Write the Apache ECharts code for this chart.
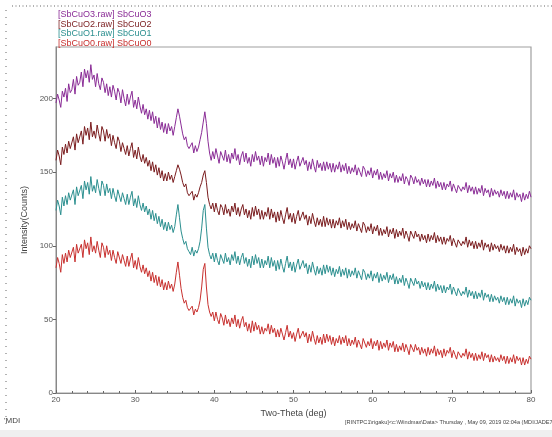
<!DOCTYPE html>
<html><head><meta charset="utf-8">
<script src="https://cdn.jsdelivr.net/npm/echarts@6/dist/echarts.min.js"></script>
<style>html,body{margin:0;padding:0;background:#fff}#c{width:552px;height:437px}</style>
</head><body><div id="c"></div>
<script>
// 2-theta sampling grid (deg)
const thetaStart = 20, thetaStep = 0.2, thetaEnd = 80;
const xTicks = [20, 30, 40, 50, 60, 70, 80];
const yTicks = [0, 50, 100, 150, 200];
const seriesNames = ['SbCuO3', 'SbCuO2', 'SbCuO1', 'SbCuO0'];
const legendLabels = ['[SbCuO3.raw] SbCuO3', '[SbCuO2.raw] SbCuO2', '[SbCuO1.raw] SbCuO1', '[SbCuO0.raw] SbCuO0'];

const sbcuo3 = [
197,203,199,194,205, 201,207,198,210,204, 206,213,203,215,209, 211,218,208,220,214, 219,211,223,213,216,
208,217,210,206,214, 211,204,210,202,208, 201,209,205,199,207, 204,197,206,200,195, 203,196,201,205,194,
199,193,201,195,190, 196,189,193,186,192, 185,191,183,188,180, 187,179,184,177,183, 176,183,178,181,175,
181,187,193,188,182, 176,172,174,168,166, 165,170,163,168,164, 167,172,177,184,191, 183,171,163,158,164,
159,166,161,156,164, 163,158,165,157,162, 156,163,159,166,158, 162,155,161,164,157, 163,156,160,154,162,
157,164,158,161,155, 161,154,160,157,163, 155,162,156,160,153, 160,154,161,157,152, 158,163,155,159,153,
159,152,157,161,154, 153,160,155,158,151, 157,152,159,154,150, 158,153,156,151,157, 151,157,152,156,150,
156,150,155,152,157, 150,155,151,156,149, 154,149,153,150,155, 148,153,150,147,154, 152,147,151,148,153,
146,151,148,152,145, 150,145,149,146,151, 144,149,146,150,143, 148,143,147,144,149, 142,147,145,141,148,
146,142,147,143,145, 141,146,142,145,140, 145,140,144,141,146, 139,144,140,143,138, 143,138,142,140,144,
137,142,139,136,141, 142,137,140,138,143, 136,141,137,140,135, 140,135,139,136,141, 134,139,136,138,133,
139,134,138,135,137, 133,138,134,137,132, 137,132,136,133,138, 131,136,133,135,130, 136,131,135,132,137,
133];
const sbcuo2 = [
158,165,161,155,167, 162,169,163,171,166, 167,174,165,176,170, 171,178,169,181,175, 180,172,184,174,178,
173,182,176,171,181, 178,171,179,173,176, 168,175,170,166,174, 171,164,170,166,162, 168,161,166,170,160,
165,159,167,161,157, 162,156,160,154,158, 151,157,150,155,148, 153,146,151,144,149, 144,150,145,148,143,
147,151,155,152,148, 143,140,142,136,134, 133,137,131,135,133, 136,140,143,148,151, 143,133,128,125,129,
123,129,124,121,128, 126,121,128,122,125, 120,127,123,129,121, 126,120,125,128,121, 125,119,124,118,126,
120,127,121,125,118, 124,118,123,120,126, 118,125,119,123,116, 123,117,124,119,115, 121,126,118,122,116,
122,115,120,124,117, 116,123,118,121,114, 120,115,122,117,113, 119,114,118,113,120, 113,119,114,118,112,
118,112,117,114,119, 112,117,113,118,111, 116,111,115,112,117, 110,115,112,109,116, 114,109,113,110,115,
108,113,110,114,107, 112,107,111,108,113, 106,111,108,112,105, 111,106,110,107,112, 105,110,107,103,110,
109,105,110,106,108, 103,108,104,107,102, 108,103,107,104,109, 102,107,103,106,101, 106,101,105,103,107,
100,105,102,99,104, 105,100,103,101,106, 99,104,100,103,98, 103,98,102,99,104, 97,102,99,101,96,
102,97,101,98,100, 96,101,97,100,95, 100,95,99,96,101, 94,99,96,98,93, 99,94,98,95,100,
98];
const sbcuo1 = [
124,131,127,121,133, 127,134,128,136,131, 130,138,128,140,134, 134,141,132,144,138, 143,135,147,137,141,
136,145,139,134,144, 141,134,142,136,139, 132,139,134,130,138, 137,130,136,132,128, 135,128,133,137,127,
132,126,134,128,124, 129,123,127,121,125, 118,124,117,122,115, 120,113,118,111,116, 110,116,111,114,109,
113,121,128,119,110, 105,101,103,98,96, 94,99,93,97,95, 98,103,112,124,128, 112,99,94,91,95,
89,95,90,87,94, 93,88,95,89,92, 87,94,90,96,88, 93,87,92,95,88, 92,86,91,85,93,
87,94,88,92,85, 91,85,90,87,93, 85,92,86,90,83, 90,84,91,86,82, 88,93,85,89,83,
89,82,87,91,84, 83,90,85,88,81, 87,82,89,84,80, 86,81,85,80,87, 81,87,82,86,80,
85,79,84,81,86, 79,84,80,85,78, 84,79,83,80,85, 78,83,80,77,84, 82,77,81,78,83,
76,81,78,82,75, 81,76,80,77,82, 75,80,77,81,74, 79,74,78,75,80, 73,78,75,71,78,
77,73,78,74,76, 71,76,72,75,70, 75,70,74,71,76, 69,74,70,73,68, 73,68,72,70,74,
67,72,69,66,71, 71,66,69,67,72, 65,70,66,69,64, 69,64,68,65,70, 63,68,65,67,62,
67,62,66,63,65, 61,66,62,65,60, 65,60,64,61,66, 59,64,61,63,58, 64,59,63,60,65,
63];
const sbcuo0 = [
85,92,88,82,94, 88,95,89,97,92, 91,99,89,101,95, 94,101,92,104,98, 102,94,106,96,100,
95,103,97,92,102, 99,92,100,94,97, 90,97,92,88,96, 95,88,94,90,86, 93,86,91,95,85,
90,84,92,86,82, 87,81,85,79,83, 76,82,75,80,73, 79,72,77,70,75, 70,76,71,74,69,
74,82,89,80,71, 65,61,63,58,56, 55,59,53,57,55, 58,63,72,84,88, 72,60,55,52,55,
49,55,50,47,54, 51,46,53,47,50, 45,51,47,53,45, 50,44,49,52,45, 48,42,47,41,49,
42,48,43,46,40, 45,40,44,42,47, 40,46,41,44,38, 43,38,44,40,36, 41,46,38,42,37,
41,35,40,44,37, 36,42,38,41,34, 40,35,42,37,33, 39,34,38,33,40, 34,40,35,39,33,
38,32,37,34,39, 33,38,34,39,32, 37,32,36,33,38, 31,36,33,30,37, 36,31,35,32,37,
30,35,32,36,29, 35,30,34,31,36, 29,34,31,35,28, 33,28,32,29,34, 28,33,30,26,33,
32,28,33,29,31, 26,31,27,30,25, 31,26,30,27,32, 25,30,26,29,24, 30,25,29,27,31,
24,29,26,23,28, 29,24,27,25,30, 23,28,24,27,22, 27,22,26,23,28, 22,27,24,26,21,
26,21,25,22,24, 21,26,22,25,20, 25,20,24,21,26, 20,25,22,24,19, 24,19,23,20,25,
23];

const colors = ['#8a2c96', '#7a1c1e', '#2b8f8f', '#c8302e'];
const values = [sbcuo3, sbcuo2, sbcuo1, sbcuo0];
const theta = [];
for (let i = 0; thetaStart + i * thetaStep <= thetaEnd + 1e-9; i++) theta.push(+(thetaStart + i * thetaStep).toFixed(2));

const chart = echarts.init(document.getElementById('c'), null, {renderer: 'canvas'});
const axisFont = {fontFamily: 'Liberation Sans, Arial, sans-serif', fontSize: 8, color: '#555'};

const graphics = [];
legendLabels.forEach((t, i) => {
  graphics.push({type: 'text', left: 58, top: 10 + i * 9.6, style: {text: t, fill: colors[i], font: '9px Liberation Sans, Arial, sans-serif'}});
});
// dotted rulers
graphics.push({type: 'line', shape: {x1: 12, y1: 6, x2: 552, y2: 6}, style: {stroke: '#999', lineWidth: 1.5, lineDash: [1, 2.5]}});
graphics.push({type: 'line', shape: {x1: 6, y1: 10, x2: 6, y2: 430}, style: {stroke: '#999', lineWidth: 1.5, lineDash: [1, 6]}});
graphics.push({type: 'rect', shape: {x: 0, y: 430, width: 552, height: 7}, style: {fill: '#efefef'}});
graphics.push({type: 'text', left: 4, top: 417, style: {text: "'MDI", fill: '#444', font: '8px Liberation Sans, Arial, sans-serif'}});
graphics.push({type: 'text', left: 345, top: 419, style: {text: '[RINTPC1\\rigaku]<c:\\Windmax\\Data> Thursday , May 09, 2019 02:04a (MDI/JADE7', fill: '#444', font: '5.6px Liberation Sans, Arial, sans-serif'}});

chart.setOption({
  animation: false,
  backgroundColor: '#fff',
  grid: {left: 56, right: 21, top: 47, bottom: 44, show: true, borderColor: '#a0a0a0', borderWidth: 1.2, containLabel: false},
  xAxis: {
    type: 'value', min: xTicks[0], max: xTicks[xTicks.length - 1], interval: 10,
    name: 'Two-Theta (deg)', nameLocation: 'middle', nameGap: 9,
    nameTextStyle: {fontFamily: 'Liberation Sans, Arial, sans-serif', fontSize: 9, color: '#444'},
    axisLine: {lineStyle: {color: '#888'}},
    axisTick: {show: true, inside: true, length: 3, lineStyle: {color: '#666'}},
    minorTick: {show: true, splitNumber: 5, length: 2, lineStyle: {color: '#666'}},
    axisLabel: Object.assign({margin: 3}, axisFont),
    splitLine: {show: false}
  },
  yAxis: {
    type: 'value', min: yTicks[0], max: 235, interval: 50,
    name: 'Intensity(Counts)', nameLocation: 'middle', nameGap: 12,
    nameTextStyle: {fontFamily: 'Liberation Sans, Arial, sans-serif', fontSize: 9, color: '#444'},
    axisLine: {show: true, lineStyle: {color: '#888'}},
    axisTick: {show: true, length: 3, lineStyle: {color: '#666'}},
    axisLabel: Object.assign({margin: 3, showMaxLabel: false}, axisFont),
    splitLine: {show: false}
  },
  series: values.map((v, i) => ({
    name: seriesNames[i], type: 'line', showSymbol: false, symbol: 'none',
    data: v.map((y, j) => [theta[j], y]),
    lineStyle: {color: colors[i], width: 1}, itemStyle: {color: colors[i]}
  })),
  graphic: graphics
});
</script></body></html>
